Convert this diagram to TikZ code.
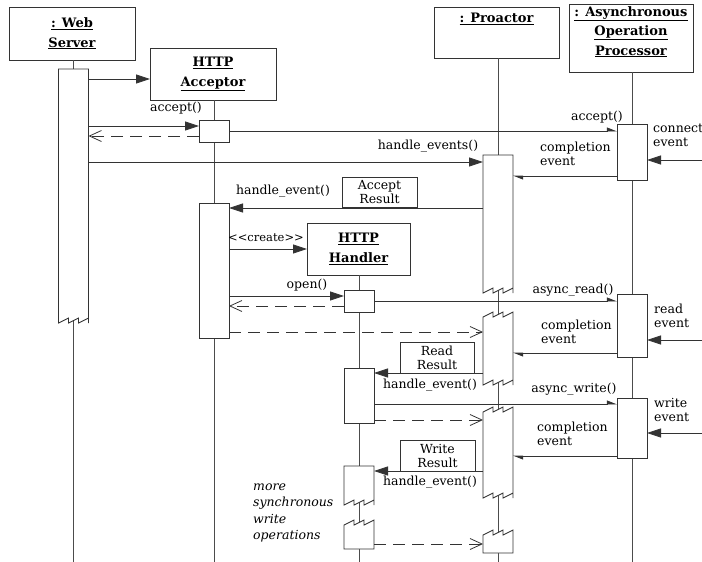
\documentclass[tikz,border=0pt]{standalone}
\usepackage{fontspec}
\setmainfont{DejaVu Serif}
\usetikzlibrary{arrows.meta}
\newcommand\zigB[1]{\draw[barln] (#1.north west) -- (#1.south west) -- ++(10,-5) -- ++(0,5) -- ++(10,-5) -- ++(0,5) -- ++(10,-5) -- ++(0,5) -- (#1.north east) -- cycle;}
\newcommand\zigTB[1]{\draw[barln] (#1.north west) -- (#1.south west) -- ++(10,-5) -- ++(0,5) -- ++(10,-5) -- ++(0,5) -- ++(10,-5) -- ++(0,5) -- (#1.north east) -- ++(0,-5) -- ++(-10,5) -- ++(0,-5) -- ++(-10,5) -- ++(0,-5) -- ++(-10,5) -- cycle;}
\newcommand\zigT[1]{\draw[barln] (#1.north west) -- (#1.south west) -- (#1.south east) -- (#1.north east) -- ++(0,-5) -- ++(-10,5) -- ++(0,-5) -- ++(-10,5) -- ++(0,-5) -- ++(-10,5) -- cycle;}
\begin{document}
\begin{tikzpicture}[x=1pt,y=-1pt,
  ln/.style={line width=0.8pt, draw=black!80},
  obj/.style={draw=black!80, line width=0.9pt, fill=white, inner sep=0pt, outer sep=0pt},
  ttl/.style={font=\fontsize{13}{19.5}\selectfont\bfseries, align=center, inner sep=0pt},
  bar/.style={draw=black!80, line width=0.9pt, fill=white, inner sep=0pt, outer sep=0pt, minimum width=30pt},
  zbar/.style={draw=none, inner sep=0pt, outer sep=0pt, minimum width=30pt},
  barln/.style={draw=black!80, line width=0.9pt, fill=white},
  life/.style={draw=black!70, line width=0.7pt},
  sync/.style={ln, -{Triangle[length=14pt,width=9pt]}},
  async/.style={ln, -{Triangle[harpoon,length=9pt,width=7pt]}},
  ret/.style={ln, dash pattern=on 12pt off 7pt, -{Straight Barb[length=12pt,width=11pt]}},
  lbl/.style={font=\fontsize{12.5}{14}\selectfont, inner sep=0pt, align=left},
  res/.style={draw=black!80, line width=0.8pt, fill=white, inner sep=0pt, outer sep=0pt, font=\fontsize{12.5}{14}\selectfont, align=center},
  note/.style={font=\fontsize{12.5}{16.5}\selectfont\itshape, inner sep=0pt, align=left},
]
\useasboundingbox (0,0) rectangle (702,562);
\clip (0,0) rectangle (702,562);

% object boxes
\node[obj, minimum width=126pt, minimum height=53pt] (ws) at (72,33.5) {};
\node[ttl] at (ws.center) {\underline{: Web}\\\underline{Server}};
\node[obj, minimum width=126pt, minimum height=52pt] (acc) at (213,74) {};
\node[ttl] at (acc.center) {\underline{HTTP}\\\underline{Acceptor}};
\node[obj, minimum width=125pt, minimum height=51pt] (pro) at (496.5,32.5) {};
\node[ttl, anchor=north] at ([yshift=-6pt]pro.north) {\underline{: Proactor}};
\node[obj, minimum width=124pt, minimum height=68pt] (aop) at (631,38) {};
\node[ttl, anchor=north] at ([yshift=-2pt]aop.north) {\underline{: Asynchronous}\\\underline{Operation}\\\underline{Processor}};

% lifelines
\draw[life] (73.5,60) -- (73.5,562);
\draw[life] (214,100) -- (214,562);
\draw[life] (498,58) -- (498,562);
\draw[life] (632,72) -- (632,562);

% activation bars
\node[zbar, minimum height=254pt] (wsbar) at (73.5,196) {};
\zigB{wsbar}
\node[bar, minimum height=22pt] (acc1) at (214,131) {};
\node[bar, minimum height=135pt] (acc2) at (214,270.5) {};
\node[zbar, minimum height=138pt] (pro1) at (498,224) {};
\zigB{pro1}
\node[zbar, minimum height=68pt] (pro2) at (498,351) {};
\zigTB{pro2}
\node[zbar, minimum height=86pt] (pro3) at (498,455) {};
\zigTB{pro3}
\node[zbar, minimum height=18pt] (pro4) at (498,544) {};
\zigT{pro4}
\node[bar, minimum height=56pt] (aop1) at (632,152) {};
\node[bar, minimum height=63pt] (aop2) at (632,325.5) {};
\node[bar, minimum height=60pt] (aop3) at (632,428) {};

% HTTP Handler
\node[obj, minimum width=103pt, minimum height=52pt] (hh) at (358.5,249) {};
\node[ttl] at (hh.center) {\underline{HTTP}\\\underline{Handler}};
\draw[life] (359,275) -- (359,562);
\node[bar, minimum height=22pt] (hh1) at (359,301) {};
\node[bar, minimum height=55pt] (hh2) at (359,395.5) {};
\node[zbar, minimum height=39pt] (hh3) at (359,485.5) {};
\zigB{hh3}
\node[zbar, minimum height=24pt] (hh4) at (359,537) {};
\zigT{hh4}

% external event sources
\coordinate (ev1) at (702,160);
\coordinate (ev2) at (702,340);
\coordinate (ev3) at (702,433);

% messages
\draw[sync] (wsbar.east |- 0,79) -- (acc.west |- 0,79);
\draw[sync] (wsbar.east |- 0,126) -- (acc1.west |- 0,126);
\node[lbl] at (176,108) {accept()};
\draw[ret] (acc1.west |- 0,136) -- (wsbar.east |- 0,136);
\draw[async] (acc1.east |- 0,131) -- (aop1.west |- 0,131);
\node[lbl] at (597,117) {accept()};
\draw[sync] (wsbar.east |- 0,162) -- (pro1.west |- 0,162);
\node[lbl] at (428,146) {handle\_events()};
\draw[sync] (ev1) -- (aop1.east |- ev1);
\node[lbl, anchor=west] at (653,135) {connect\\event};
\draw[async] (aop1.west |- 0,176) -- (pro1.east |- 0,176);
\node[lbl, anchor=west] at (540,154) {completion\\event};

\node[res, minimum width=75pt, minimum height=30pt] (ar) at (379.5,192) {Accept\\Result};
\draw[sync] (pro1.west |- 0,208) -- (acc2.east |- 0,208);
\node[lbl] at (283,191) {handle\_event()};

\draw[sync] (acc2.east |- 0,249) -- (hh.west |- 0,249);
\node[lbl, font=\fontsize{11.5}{14}\selectfont] at (266,238) {<{}<create>{}>};
\draw[sync] (acc2.east |- 0,296) -- (hh1.west |- 0,296);
\node[lbl] at (307,285) {open()};
\draw[ret] (hh1.west |- 0,306) -- (acc2.east |- 0,306);
\draw[async] (hh1.east |- 0,301) -- (aop2.west |- 0,301);
\node[lbl] at (573,290) {async\_read()};
\draw[ret] (acc2.east |- 0,332) -- (pro2.west |- 0,332);
\draw[sync] (ev2) -- (aop2.east |- ev2);
\node[lbl, anchor=west] at (654,315.5) {read\\event};
\draw[async] (aop2.west |- 0,353) -- (pro2.east |- 0,353);
\node[lbl, anchor=west] at (541,332) {completion\\event};

\node[res, minimum width=74pt, minimum height=31pt] (rr) at (437,357.5) {Read\\Result};
\draw[sync] (pro2.west |- 0,373) -- (hh2.east |- 0,373);
\node[lbl] at (430,385) {handle\_event()};

\draw[async] (hh2.east |- 0,404) -- (aop3.west |- 0,404);
\node[lbl] at (574,389) {async\_write()};
\draw[ret] (hh2.east |- 0,420) -- (pro3.west |- 0,420);
\draw[sync] (ev3) -- (aop3.east |- ev3);
\node[lbl, anchor=west] at (654,409.5) {write\\event};
\draw[async] (aop3.west |- 0,456) -- (pro3.east |- 0,456);
\node[lbl, anchor=west] at (537,434) {completion\\event};

\node[res, minimum width=75pt, minimum height=31pt] (wr) at (437.5,455.5) {Write\\Result};
\draw[sync] (pro3.west |- 0,471) -- (hh3.east |- 0,471);
\node[lbl] at (430,482) {handle\_event()};

\draw[ret] (hh4.east |- 0,544) -- (pro4.west |- 0,544);
\node[note, anchor=west] at (253,513) {more\\synchronous\\write\\operations};
\end{tikzpicture}
\end{document}
